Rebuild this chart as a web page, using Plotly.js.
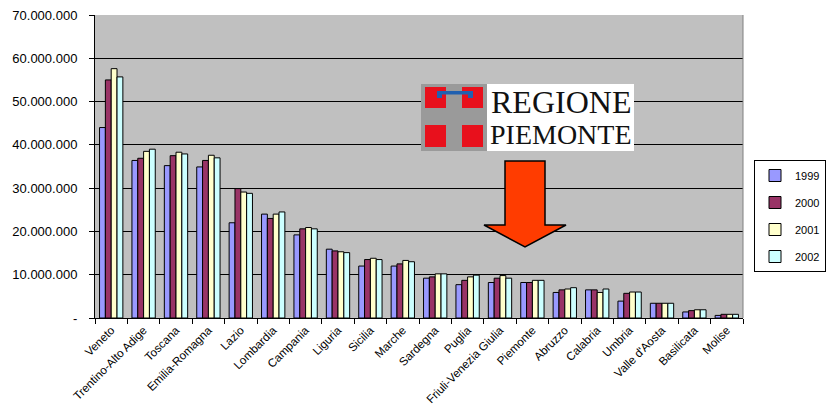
<!DOCTYPE html>
<html>
<head>
<meta charset="utf-8">
<script src="https://cdn.plot.ly/plotly-3.0.1.min.js"></script>
<style>html,body{margin:0;padding:0;background:#fff;}#chart{width:834px;height:408px;}</style>
</head>
<body>
<div id="chart"></div>
<script>
var regions = ["Veneto","Trentino-Alto Adige","Toscana","Emilia-Romagna","Lazio","Lombardia","Campania","Liguria","Sicilia","Marche","Sardegna","Puglia","Friuli-Venezia Giulia","Piemonte","Abruzzo","Calabria","Umbria","Valle d'Aosta","Basilicata","Molise"];
var years = ["1999","2000","2001","2002"];
var v1999 = [44.0,36.4,35.2,34.9,22.0,24.0,19.2,15.9,12.0,12.0,9.2,7.7,8.2,8.2,5.9,6.5,3.9,3.4,1.4,0.6];
var v2000 = [55.0,36.9,37.5,36.4,29.9,23.0,20.6,15.5,13.5,12.5,9.5,8.7,9.2,8.2,6.5,6.5,5.7,3.4,1.7,0.85];
var v2001 = [57.6,38.5,38.3,37.6,29.1,24.0,20.9,15.3,13.8,13.3,10.2,9.5,9.8,8.7,6.7,5.9,6.0,3.4,1.9,0.85];
var v2002 = [55.7,39.0,37.9,37.0,28.8,24.5,20.6,15.1,13.5,13.0,10.2,9.9,9.2,8.7,7.0,6.7,6.0,3.4,1.9,0.85];
var yTickVals = [0,10,20,30,40,50,60,70];
var yTickText = ["-","10.000.000","20.000.000","30.000.000","40.000.000","50.000.000","60.000.000","70.000.000"];
var colors = ["#9999FF","#993366","#FFFFCC","#CCFFFF"];
var series = [v1999,v2000,v2001,v2002];

function mil(a){return a.map(function(v){return v*1e6;});}

var traces = series.map(function(s,i){
  return {
    type:"bar", name:years[i], x:regions, y:mil(s),
    marker:{color:colors[i], line:{color:"#000", width:1}},
    legendgroup:"g"+i, hoverinfo:"x+y+name"
  };
});

// pixel -> paper helpers (plot area 95..743 x, 15..318 y)
var L=95, R=743, T=15, B=318;
function px(x){return (x-L)/(R-L);}
function py(y){return (B-y)/(B-T);}
function rect(x0,y0,x1,y1,fill,line){
  return {type:"rect",xref:"paper",yref:"paper",x0:px(x0),x1:px(x1),y0:py(y1),y1:py(y0),
    fillcolor:fill,line:{width:line?1:0,color:line||fill},layer:"above"};
}
var shapes = [
  rect(421,84,487,151,"#9a9a9a"),
  rect(487,84,634,151,"#ffffff"),
  rect(425,87,446,108,"#e8101c"),
  rect(462,87,483,108,"#e8101c"),
  rect(425,125,446,147,"#e8101c"),
  rect(462,125,483,147,"#e8101c"),
  {type:"path",xref:"paper",yref:"paper",layer:"above",
   path:"M "+px(437)+" "+py(91)+" L "+px(473)+" "+py(91)+" L "+px(473)+" "+py(98)+" L "+px(468)+" "+py(98)+" L "+px(468)+" "+py(94.5)+" L "+px(442)+" "+py(94.5)+" L "+px(442)+" "+py(98)+" L "+px(437)+" "+py(98)+" Z",
   fillcolor:"#2060b0",line:{width:0}},
  {type:"path",xref:"paper",yref:"paper",layer:"above",
   path:"M "+px(505)+" "+py(161)+" L "+px(545)+" "+py(161)+" L "+px(545)+" "+py(225)+" L "+px(566)+" "+py(225)+" L "+px(525)+" "+py(247)+" L "+px(484)+" "+py(225)+" L "+px(505)+" "+py(225)+" Z",
   fillcolor:"#ff3c00",line:{width:1.5,color:"#000"}},
  {type:"line",xref:"paper",yref:"paper",x0:1,x1:1,y0:0,y1:1,line:{color:"#808080",width:1},layer:"above"}
];
var annotations = [
  {xref:"paper",yref:"paper",x:px(561),y:py(102),text:"REGIONE",showarrow:false,
   font:{family:"Liberation Serif",size:32,color:"#111"},xanchor:"center",yanchor:"middle"},
  {xref:"paper",yref:"paper",x:px(561),y:py(134),text:"PIEMONTE",showarrow:false,
   font:{family:"Liberation Serif",size:28,color:"#111"},xanchor:"center",yanchor:"middle"}
];

var layout = {
  width:834, height:408,
  margin:{l:L, r:834-R, t:T, b:408-B, autoexpand:false},
  paper_bgcolor:"#ffffff", plot_bgcolor:"#c0c0c0",
  font:{family:"Liberation Sans, Arial, sans-serif", size:12, color:"#000"},
  barmode:"group", bargap:0.28, bargroupgap:0,
  showlegend:true,
  legend:{x:px(826), y:py(160), xanchor:"right", yanchor:"top",
    bordercolor:"#000", borderwidth:1, bgcolor:"#fff",
    font:{size:11}, tracegroupgap:8, traceorder:"grouped"},
  xaxis:{type:"category", tickangle:-45, ticks:"outside", ticklen:5, tickcolor:"#000",
    tickson:"boundaries", showline:true, linecolor:"#000", linewidth:1,
    tickfont:{size:11.6}, showgrid:false, fixedrange:true},
  yaxis:{range:[0,70e6], tickvals:yTickVals.map(function(v){return v*1e6;}), ticktext:yTickText,
    ticks:"outside", ticklen:5, tickcolor:"#000", showline:true, linecolor:"#000", linewidth:1,
    gridcolor:"#000", gridwidth:1, zeroline:false, tickfont:{size:13}, ticklabelstandoff:9, fixedrange:true},
  shapes:shapes, annotations:annotations
};
Plotly.newPlot("chart", traces, layout, {displayModeBar:false, staticPlot:true});
</script>
</body>
</html>
